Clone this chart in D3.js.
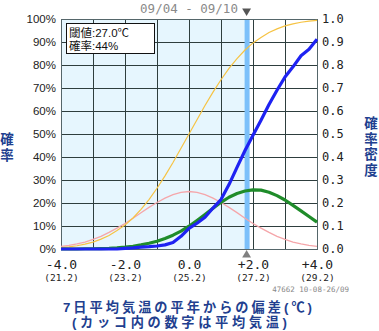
<!DOCTYPE html>
<html>
<head>
<meta charset="utf-8">
<script src="https://cdn.jsdelivr.net/npm/d3@7"></script>
<style>
  html, body { margin: 0; padding: 0; background: #fff; }
  svg { display: block; }
</style>
</head>
<body>
<svg id="chart" width="379" height="331"></svg>
<script>
// Period and reference values
const periodLabel = "09/04 - 09/10";
const stampLabel = "47662 10-08-26/09";
const normalTemp = 25.2;          // 平年値 (deviation 0.0)
const thresholdTemp = 27.0;       // 閾値
const thresholdProb = 44;         // 確率 (%)

// Deviation from normal (℃)
const deviation = [-4, -3.75, -3.5, -3.25, -3, -2.75, -2.5, -2.25, -2, -1.75, -1.5, -1.25, -1, -0.75, -0.5, -0.25,
  0, 0.25, 0.5, 0.75, 1, 1.25, 1.5, 1.75, 2, 2.25, 2.5, 2.75, 3, 3.25, 3.5, 3.75, 4];

// Climatological probability density (pink) and cumulative probability (yellow)
const climDensity = [0.011, 0.016, 0.022, 0.030, 0.042, 0.055, 0.072, 0.091, 0.111, 0.134, 0.158, 0.181, 0.202, 0.221, 0.236, 0.246,
  0.250, 0.246, 0.236, 0.221, 0.202, 0.181, 0.158, 0.134, 0.111, 0.091, 0.072, 0.055, 0.042, 0.030, 0.022, 0.016, 0.011];
const climProb = [0.006, 0.009, 0.014, 0.021, 0.030, 0.043, 0.059, 0.080, 0.104, 0.135, 0.172, 0.215, 0.264, 0.318, 0.376, 0.438,
  0.500, 0.562, 0.624, 0.682, 0.736, 0.785, 0.828, 0.865, 0.896, 0.920, 0.941, 0.957, 0.970, 0.979, 0.986, 0.991, 0.994];

// Forecast probability density (green) and cumulative probability (blue)
const fcstDensity = [0.000, 0.000, 0.000, 0.001, 0.001, 0.002, 0.003, 0.005, 0.008, 0.012, 0.018, 0.025, 0.034, 0.046, 0.060, 0.078,
  0.099, 0.124, 0.150, 0.177, 0.203, 0.225, 0.241, 0.252, 0.257, 0.256, 0.247, 0.232, 0.213, 0.190, 0.166, 0.141, 0.117];
const fcstProb = [0.000, 0.000, 0.000, 0.000, 0.000, 0.000, 0.000, 0.000, 0.003, 0.005, 0.008, 0.010, 0.013, 0.018, 0.028, 0.055,
  0.090, 0.112, 0.138, 0.178, 0.215, 0.280, 0.355, 0.428, 0.495, 0.560, 0.628, 0.690, 0.748, 0.792, 0.840, 0.868, 0.912];

// Axis ticks
const devTicks = [-4, -2, 0, 2, 4];
const devTickLabels = ["-4.0", "-2.0", "0.0", "+2.0", "+4.0"];
const tempTickLabels = ["(21.2)", "(23.2)", "(25.2)", "(27.2)", "(29.2)"];
const gridDev = [-4, -3, -2, -1, 0, 1, 2, 3, 4];
const probTicks = [0, 0.1, 0.2, 0.3, 0.4, 0.5, 0.6, 0.7, 0.8, 0.9, 1.0];
const densTickLabels = ["0.0", "0.1", "0.2", "0.3", "0.4", "0.5", "0.6", "0.7", "0.8", "0.9", "1.0"];

const titleLines = ["7日平均気温の平年からの偏差(℃)", "(カッコ内の数字は平均気温)"];
const leftTitle = ["確", "率"];
const rightTitle = ["確", "率", "密", "度"];

const jpFont = "Liberation Sans, 'Noto Sans CJK JP', sans-serif";

const svg = d3.select("#chart");
const plot = { left: 61, right: 317, top: 19, bottom: 249 };

const x = d3.scaleLinear().domain([-4, 4]).range([plot.left, plot.right]);
const yProb = d3.scaleLinear().domain([0, 1]).range([plot.bottom, plot.top]);
const yDens = d3.scaleLinear().domain([0, 1]).range([plot.bottom, plot.top]);

const thresholdDev = +(thresholdTemp - normalTemp).toFixed(1);
const xt = x(thresholdDev);

// Backgrounds: shaded region below the threshold
svg.append("rect")
  .attr("x", plot.left).attr("y", plot.top)
  .attr("width", plot.right - plot.left).attr("height", plot.bottom - plot.top)
  .attr("fill", "#ffffff");
svg.append("rect")
  .attr("x", plot.left).attr("y", plot.top)
  .attr("width", xt - plot.left).attr("height", plot.bottom - plot.top)
  .attr("fill", "#e6f6fe");

// Grid
const grid = svg.append("g").attr("shape-rendering", "crispEdges");
grid.selectAll("line.v").data(gridDev).join("line")
  .attr("class", "v")
  .attr("x1", d => Math.round(x(d)) + 0.5).attr("x2", d => Math.round(x(d)) + 0.5)
  .attr("y1", plot.top).attr("y2", plot.bottom)
  .attr("stroke", "#2e3e3e").attr("stroke-width", 1);
grid.selectAll("line.h").data(probTicks).join("line")
  .attr("class", "h")
  .attr("x1", plot.left).attr("x2", plot.right)
  .attr("y1", d => Math.round(yProb(d)) + 0.5).attr("y2", d => Math.round(yProb(d)) + 0.5)
  .attr("stroke", "#2e3e3e").attr("stroke-width", 1);

// Threshold band
svg.append("line")
  .attr("x1", xt + 0.5).attr("x2", xt + 0.5)
  .attr("y1", plot.top).attr("y2", plot.bottom)
  .attr("stroke", "#7cc0fa").attr("stroke-width", 5);

// Plot frame
svg.append("rect")
  .attr("x", plot.left + 0.5).attr("y", plot.top + 0.5)
  .attr("width", plot.right - plot.left).attr("height", plot.bottom - plot.top)
  .attr("fill", "none").attr("stroke", "#55666a").attr("stroke-width", 1.5)
  .attr("shape-rendering", "crispEdges");

// Curves
svg.append("clipPath").attr("id", "plotclip")
  .append("rect").attr("x", plot.left).attr("y", plot.top - 2)
  .attr("width", plot.right - plot.left + 1).attr("height", plot.bottom - plot.top + 5);

const curves = svg.append("g").attr("clip-path", "url(#plotclip)");
const lineOf = (vals, yScale) => d3.line()
  .x((d, i) => x(deviation[i]))
  .y(d => yScale(d))(vals);

curves.append("path").attr("d", lineOf(climDensity, yDens))
  .attr("fill", "none").attr("stroke", "#f5a6aa").attr("stroke-width", 1.3);
curves.append("path").attr("d", lineOf(climProb, yProb))
  .attr("fill", "none").attr("stroke", "#f6c343").attr("stroke-width", 1.2);
curves.append("path").attr("d", lineOf(fcstDensity, yDens))
  .attr("fill", "none").attr("stroke", "#1f8c2a").attr("stroke-width", 3.2)
  .attr("stroke-linejoin", "round");
curves.append("path").attr("d", lineOf(fcstProb, yProb))
  .attr("fill", "none").attr("stroke", "#1e22f2").attr("stroke-width", 3.2)
  .attr("stroke-linejoin", "round");

// Threshold markers
svg.append("path")
  .attr("d", d3.symbol().type(d3.symbolTriangle).size(34)())
  .attr("transform", `translate(${xt},11) rotate(180)`)
  .attr("fill", "#555");
svg.append("path")
  .attr("d", d3.symbol().type(d3.symbolTriangle).size(34)())
  .attr("transform", `translate(${xt},255)`)
  .attr("fill", "#808080");

// Period label
svg.append("text")
  .attr("x", 189).attr("y", 13)
  .attr("text-anchor", "middle")
  .attr("font-family", "DejaVu Sans Mono")
  .attr("font-size", 12.5)
  .attr("fill", "#8a8a8a")
  .text(periodLabel);

// Left axis: probability
const axL = svg.append("g")
  .attr("transform", `translate(${plot.left},0)`)
  .call(d3.axisLeft(yProb).tickValues(probTicks).tickFormat(d => Math.round(d * 100) + "%").tickSize(0).tickPadding(5));
axL.select(".domain").remove();
axL.selectAll("text")
  .attr("font-family", "Liberation Sans, Arial, sans-serif")
  .attr("font-size", 11.5)
  .attr("fill", "#222");

// Right axis: probability density
const axR = svg.append("g")
  .attr("transform", `translate(${plot.right},0)`)
  .call(d3.axisRight(yDens).tickValues(probTicks).tickFormat((d, i) => densTickLabels[i]).tickSize(0).tickPadding(5));
axR.select(".domain").remove();
axR.selectAll("text")
  .attr("font-family", "DejaVu Sans Mono, monospace")
  .attr("font-size", 12)
  .attr("fill", "#222");

// Bottom axis: deviation and mean temperature
const axB = svg.append("g")
  .attr("transform", `translate(0,${plot.bottom})`)
  .call(d3.axisBottom(x).tickValues(devTicks).tickFormat((d, i) => devTickLabels[i]).tickSize(0).tickPadding(11));
axB.select(".domain").remove();
axB.selectAll("text")
  .attr("font-family", "DejaVu Sans Mono, monospace")
  .attr("font-size", 13)
  .attr("fill", "#222");

const axB2 = svg.append("g")
  .attr("transform", `translate(0,${plot.bottom})`)
  .call(d3.axisBottom(x).tickValues(devTicks).tickFormat((d, i) => tempTickLabels[i]).tickSize(0).tickPadding(25));
axB2.select(".domain").remove();
axB2.selectAll("text")
  .attr("font-family", "DejaVu Sans Mono, monospace")
  .attr("font-size", 9.5)
  .attr("fill", "#222");

// Stamp
svg.append("text")
  .attr("x", 349).attr("y", 292)
  .attr("text-anchor", "end")
  .attr("font-family", "DejaVu Sans Mono, monospace")
  .attr("font-size", 7.5)
  .attr("fill", "#888")
  .text(stampLabel);

// Legend box
const lg = svg.append("g");
lg.append("rect")
  .attr("x", 66.5).attr("y", 23.5).attr("width", 88).attr("height", 30)
  .attr("fill", "#fff").attr("stroke", "#111").attr("stroke-width", 1)
  .attr("shape-rendering", "crispEdges");
lg.append("text").attr("x", 69).attr("y", 36.5)
  .attr("font-family", jpFont)
  .attr("font-size", 11.5).attr("fill", "#111")
  .text(`閾値:${thresholdTemp.toFixed(1)}℃`);
lg.append("text").attr("x", 69).attr("y", 49.5)
  .attr("font-family", jpFont)
  .attr("font-size", 11.5).attr("fill", "#111")
  .text(`確率:${thresholdProb}%`);

// Axis titles (stacked vertically, one glyph per row)
const navy = "#223f8f";
svg.append("g").selectAll("text").data(leftTitle).join("text")
  .attr("x", 7).attr("y", (d, i) => 144 + i * 15.5)
  .attr("text-anchor", "middle")
  .attr("font-family", jpFont)
  .attr("font-weight", "bold").attr("font-size", 13.5)
  .attr("fill", navy).text(d => d);
svg.append("g").selectAll("text").data(rightTitle).join("text")
  .attr("x", 371).attr("y", (d, i) => 128 + i * 15.5)
  .attr("text-anchor", "middle")
  .attr("font-family", jpFont)
  .attr("font-weight", "bold").attr("font-size", 13.5)
  .attr("fill", navy).text(d => d);

// Bottom title (two lines)
svg.append("text").attr("x", 63).attr("y", 312)
  .attr("textLength", 249).attr("lengthAdjust", "spacing")
  .attr("font-family", jpFont)
  .attr("font-weight", "bold").attr("font-size", 13.2)
  .attr("fill", navy).text(titleLines[0]);
svg.append("text").attr("x", 72).attr("y", 327)
  .attr("textLength", 215).attr("lengthAdjust", "spacing")
  .attr("font-family", jpFont)
  .attr("font-weight", "bold").attr("font-size", 13.2)
  .attr("fill", navy).text(titleLines[1]);
</script>
</body>
</html>
